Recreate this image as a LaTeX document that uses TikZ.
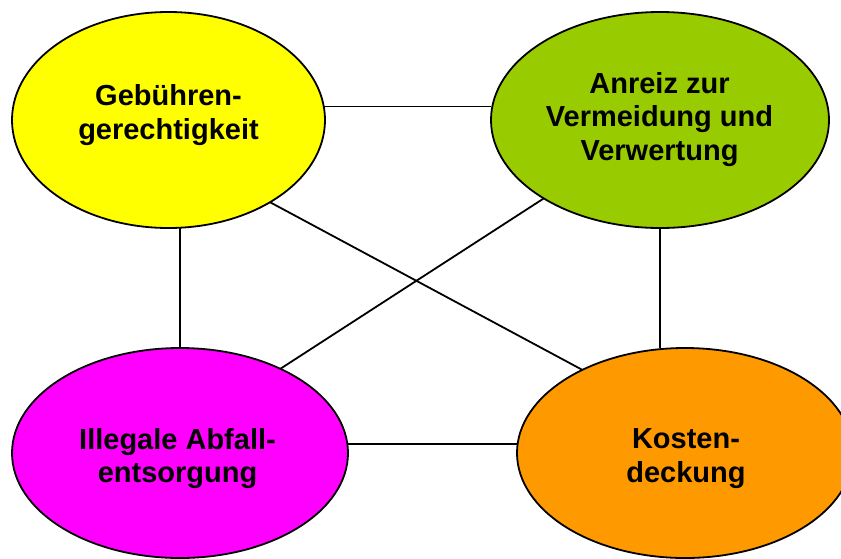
\documentclass[tikz,border=0pt]{standalone}
\usepackage{fontspec}
\setmainfont{Liberation Sans}
\usetikzlibrary{shapes.geometric}
\definecolor{cyel}{HTML}{FFFF00}
\definecolor{cgrn}{HTML}{99CC00}
\definecolor{cmag}{HTML}{FF00FF}
\definecolor{corg}{HTML}{FF9900}
\begin{document}
\begin{tikzpicture}[x=1pt,y=-1pt,
  oval/.style={ellipse, draw=black, line width=1.8pt, inner sep=0pt, outer sep=0pt},
  label/.style={align=center, inner sep=0pt, font=\bfseries\fontsize{29}{33.5}\selectfont},
  link/.style={draw=black, line width=1.8pt}]
\useasboundingbox (0,0) rectangle (841,558);
\clip (0,0) rectangle (841,558);
\node[oval, fill=cyel, minimum width=313pt, minimum height=216pt] (yel) at (168.5,120) {};
\node[oval, fill=cgrn, minimum width=338pt, minimum height=216pt] (grn) at (660,120) {};
\node[oval, fill=cmag, minimum width=336pt, minimum height=210pt] (mag) at (180,453) {};
\node[oval, fill=corg, minimum width=336pt, minimum height=210pt] (org) at (685,453) {};
\node[label] (tyel) at (168.5,115) {Gebühren-\\gerechtigkeit};
\node[label] (tgrn) at (659.5,119.5) {Anreiz zur\\Vermeidung und\\Verwertung};
\node[label] (tmag) at (177.5,458.8) {Illegale Abfall-\\entsorgung};
\node[label] (torg) at (686,458.8) {Kosten-\\deckung};
\draw[link] (yel.5) -- (yel.5 -| grn.west);
\draw[link] (mag.3) -- (mag.3 -| org.west);
\draw[link] (yel.south -| mag.north) -- (mag.north);
\draw[link] (grn.south) -- (grn.south |- org.north);
\draw[link] (yel.-39) -- (org.141);
\draw[link] (grn.-146.5) -- (mag.40);
\end{tikzpicture}
\end{document}
